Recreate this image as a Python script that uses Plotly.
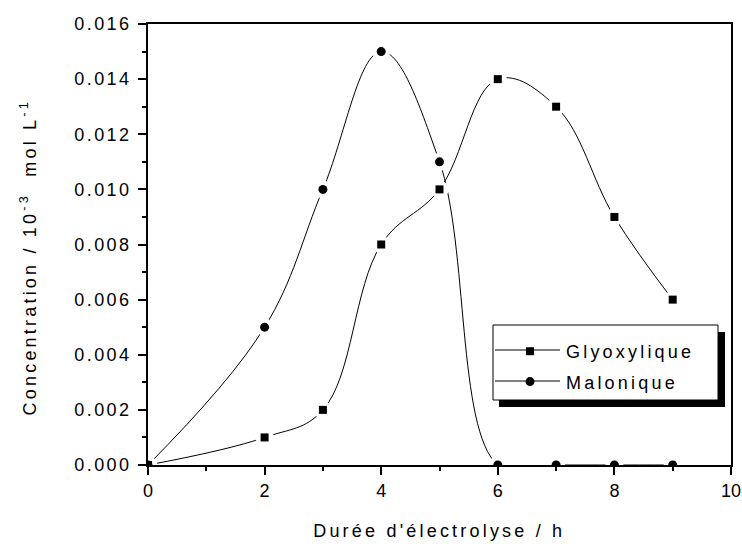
import plotly.graph_objects as go

hours = [0, 2, 3, 4, 5, 6, 7, 8, 9]
glyoxylique = [0.0, 0.001, 0.002, 0.008, 0.010, 0.014, 0.013, 0.009, 0.006]
malonique = [0.0, 0.005, 0.010, 0.015, 0.011, 0.0, 0.0, 0.0, 0.0]
x_ticks = [0, 2, 4, 6, 8, 10]
y_ticks = [0.000, 0.002, 0.004, 0.006, 0.008, 0.010, 0.012, 0.014, 0.016]
x_title = "Durée d'électrolyse / h"
y_title = "Concentration / 10<sup>-3</sup>\u00a0 mol L<sup>-1</sup>"

FONT = "Arial, Liberation Sans, Helvetica, sans-serif"

# plot area in pixels (for converting layout positions)
L, R, T, B = 148, 731, 24, 465
W, H = R - L, B - T
def px(x):
    return (x - L) / W
def py(y):
    return (B - y) / H

fig = go.Figure()

series = [("Glyoxylique", glyoxylique, "square", 8), ("Malonique", malonique, "circle", 9)]

# smoothed lines
for name, ys, sym, sz in series:
    fig.add_trace(go.Scatter(x=hours, y=ys, mode="lines", showlegend=False,
                             line=dict(color="black", width=1, shape="spline", smoothing=1.1),
                             hoverinfo="skip"))
# white halos to create gaps around markers
for name, ys, sym, sz in series:
    fig.add_trace(go.Scatter(x=hours, y=ys, mode="markers", showlegend=False,
                             marker=dict(symbol="circle", size=18, color="white", line=dict(width=0)),
                             hoverinfo="skip"))
# markers
for name, ys, sym, sz in series:
    fig.add_trace(go.Scatter(x=hours, y=ys, mode="markers", showlegend=False,
                             marker=dict(symbol=sym, size=sz, color="black", line=dict(width=0))))
# legend entries (the sample line is drawn as a longer layout line below)
for name, ys, sym, sz in series:
    fig.add_trace(go.Scatter(x=[None], y=[None], mode="markers", name=name,
                             legendgroup=name,
                             marker=dict(symbol=sym, size=sz, color="black")))

axis_common = dict(showline=True, linecolor="black", linewidth=2, mirror=True,
                   ticks="outside", ticklen=8, tickwidth=1.5, tickcolor="black",
                   showgrid=False, zeroline=False, layer="above traces", automargin=False,
                   tickfont=dict(family=FONT, size=18, color="black"))

fig.update_xaxes(range=[0, 10], tickvals=x_ticks,
                 minor=dict(ticks="outside", ticklen=4, tickwidth=1.5, tickcolor="black", dtick=1),
                 **axis_common)
fig.update_yaxes(range=[0, 0.016], tickvals=y_ticks, tickformat=".3f", ticklabelstandoff=3,
                 minor=dict(ticks="outside", ticklen=4, tickwidth=1.5, tickcolor="black", dtick=0.001),
                 **axis_common)

# axis titles as annotations
fig.add_annotation(text=x_title, xref="paper", yref="paper", x=px(439), y=py(531),
                   xanchor="center", yanchor="middle", showarrow=False,
                   font=dict(family=FONT, size=18, color="black"))
fig.add_annotation(text=y_title, xref="paper", yref="paper", x=px(28), y=py(257),
                   xanchor="center", yanchor="middle", textangle=-90, showarrow=False,
                   font=dict(family=FONT, size=18, color="black"))

# legend box with shadow
fig.add_shape(type="rect", xref="paper", yref="paper", x0=px(499), x1=px(725), y0=py(407), y1=py(332),
              fillcolor="black", line=dict(width=0), layer="above")
fig.add_shape(type="rect", xref="paper", yref="paper", x0=px(493), x1=px(718), y0=py(400), y1=py(325),
              fillcolor="white", line=dict(color="black", width=1), layer="above")
# legend sample lines
for yy in (350, 381):
    fig.add_shape(type="line", xref="paper", yref="paper", x0=px(495), x1=px(560), y0=py(yy), y1=py(yy),
                  line=dict(color="black", width=1), layer="above")

fig.update_layout(
    width=742, height=544,
    margin=dict(l=L, r=742 - R, t=T, b=544 - B, autoexpand=False),
    paper_bgcolor="white", plot_bgcolor="white",
    font=dict(family=FONT, size=18, color="black"),
    legend=dict(x=px(494), y=py(333), xanchor="left", yanchor="top",
                bgcolor="rgba(0,0,0,0)", borderwidth=0, itemwidth=62,
                traceorder="grouped", tracegroupgap=4,
                font=dict(family=FONT, size=18, color="black")),
)

post = ("document.body.style.margin='0';"
        "var gd=document.getElementById('{plot_id}');"
        "gd.querySelectorAll('svg text').forEach(function(t){t.style.letterSpacing='3.2px';});"
        "gd.querySelectorAll('.ytick text').forEach(function(t){t.style.letterSpacing='2.4px';});"
        "gd.querySelectorAll('.xtick text').forEach(function(t){t.style.letterSpacing='0px';});"
        "gd.querySelectorAll('.legend [clip-path]').forEach(function(e){e.removeAttribute('clip-path');});")

fig.write_html("out.html", post_script=post, config={"displayModeBar": False})
